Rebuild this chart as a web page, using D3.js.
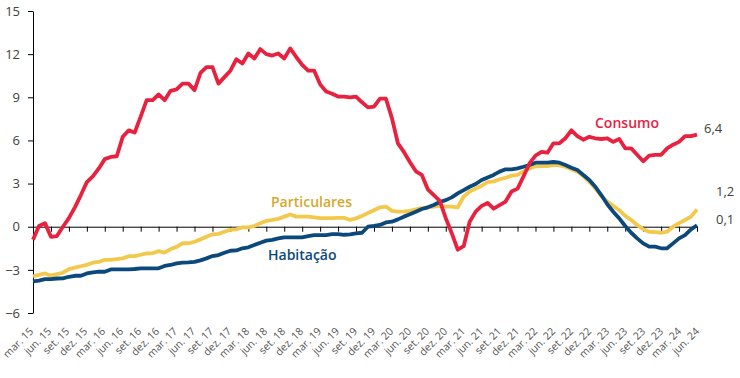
<!DOCTYPE html>
<html>
<head>
<meta charset="utf-8">
<script src="https://cdn.jsdelivr.net/npm/d3@7"></script>
<style>
  body { margin: 0; background: #fff; }
  svg { display: block; font-family: "Open Sans", sans-serif; }
</style>
</head>
<body>
<svg id="chart" width="740" height="378"></svg>
<script>
// ========== Data ==========
// monthly, mar.15 .. jun.24 (112 months)
const consumo = [
  -0.9, 0.05, 0.25, -0.7, -0.65, 0.0, 0.6, 1.35, 2.2, 3.1, 3.5, 4.05,
  4.7, 4.85, 4.9, 6.25, 6.7, 6.55, 7.65, 8.8, 8.8, 9.2, 8.8, 9.45,
  9.55, 9.95, 9.95, 9.5, 10.7, 11.1, 11.1, 9.95, 10.4, 10.85, 11.65, 11.35,
  12.05, 11.7, 12.35, 12.0, 11.9, 12.05, 11.7, 12.4, 11.8, 11.25, 10.85, 10.85,
  9.9, 9.4, 9.25, 9.05, 9.05, 9.0, 9.05, 8.65, 8.3, 8.35, 8.9, 8.9,
  7.55, 5.8, 5.2, 4.5, 3.85, 3.6, 2.6, 2.2, 1.8, 0.6, -0.45, -1.6,
  -1.35, 0.35, 1.05, 1.45, 1.65, 1.25, 1.5, 1.75, 2.45, 2.65, 3.5, 4.4,
  4.95, 5.2, 5.15, 5.8, 5.8, 6.15, 6.7, 6.3, 6.05, 6.25, 6.15, 6.1,
  6.15, 5.9, 6.1, 5.45, 5.45, 5.0, 4.55, 4.95, 5.0, 5.0, 5.45, 5.7,
  5.9, 6.3, 6.3, 6.4
];

const particulares = [
  -3.45, -3.35, -3.25, -3.4, -3.3, -3.2, -2.95, -2.85, -2.75, -2.65, -2.5, -2.45,
  -2.3, -2.3, -2.25, -2.2, -2.05, -2.05, -1.95, -1.85, -1.85, -1.7, -1.8, -1.55,
  -1.4, -1.15, -1.15, -1.05, -0.88, -0.7, -0.53, -0.5, -0.35, -0.2, -0.18, -0.05,
  -0.05, 0.05, 0.25, 0.4, 0.47, 0.55, 0.7, 0.85, 0.7, 0.7, 0.7, 0.65,
  0.6, 0.6, 0.6, 0.62, 0.62, 0.47, 0.58, 0.75, 0.95, 1.15, 1.35, 1.4,
  1.1, 1.05, 1.05, 1.1, 1.2, 1.3, 1.35, 1.4, 1.45, 1.4, 1.4, 1.35,
  2.1, 2.45, 2.65, 2.85, 3.1, 3.15, 3.3, 3.4, 3.55, 3.6, 3.85, 4.05,
  4.2, 4.22, 4.22, 4.3, 4.27, 4.17, 4.0, 3.83, 3.5, 3.13, 2.67, 2.13,
  1.75, 1.45, 1.15, 0.75, 0.47, 0.12, -0.18, -0.35, -0.37, -0.42, -0.35, 0.0,
  0.25, 0.47, 0.7, 1.2
];

const habitacao = [
  -3.8, -3.75, -3.65, -3.64, -3.6, -3.59, -3.48, -3.41, -3.41, -3.25, -3.17, -3.13,
  -3.13, -2.97, -2.96, -2.96, -2.96, -2.94, -2.89, -2.89, -2.89, -2.89, -2.73, -2.66,
  -2.55, -2.5, -2.48, -2.45, -2.34, -2.2, -2.04, -1.97, -1.81, -1.67, -1.65, -1.5,
  -1.43, -1.27, -1.11, -0.97, -0.92, -0.81, -0.74, -0.74, -0.74, -0.74, -0.65, -0.58,
  -0.58, -0.58, -0.51, -0.51, -0.56, -0.53, -0.46, -0.42, 0.0, 0.05, 0.12, 0.3,
  0.35, 0.51, 0.7, 0.86, 1.04, 1.23, 1.35, 1.51, 1.72, 1.85, 2.04, 2.32,
  2.55, 2.78, 2.97, 3.25, 3.43, 3.6, 3.83, 3.99, 3.99, 4.06, 4.17, 4.29,
  4.45, 4.45, 4.45, 4.5, 4.45, 4.29, 4.1, 3.94, 3.6, 3.25, 2.78, 2.2,
  1.56, 1.04, 0.58, 0.05, -0.42, -0.81, -1.16, -1.39, -1.39, -1.5, -1.5, -1.16,
  -0.81, -0.58, -0.18, 0.1
];

const tickLabels = [
  'mar. 15', 'jun. 15', 'set. 15', 'dez. 15', 'mar. 16', 'jun. 16', 'set. 16', 'dez. 16',
  'mar. 17', 'jun. 17', 'set. 17', 'dez. 17', 'mar. 18', 'jun. 18', 'set. 18', 'dez. 18',
  'mar. 19', 'jun. 19', 'set. 19', 'dez. 19', 'mar. 20', 'jun. 20', 'set. 20', 'dez. 20',
  'mar. 21', 'jun. 21', 'set. 21', 'dez. 21', 'mar. 22', 'jun. 22', 'set. 22', 'dez. 22',
  'mar. 23', 'jun. 23', 'set. 23', 'dez. 23', 'mar. 24', 'jun. 24'
];

const yTicks = [-6, -3, 0, 3, 6, 9, 12, 15];

const seriesNames = ['Consumo', 'Particulares', 'Habitação'];
const endLabels = ['6,4', '1,2', '0,1'];

// ========== Config ==========
const config = {
  left: 33, right: 697, top: 11, bottom: 313,
  colors: {
    consumo: '#E8213F',
    particulares: '#F2C94C',
    particularesText: '#D6A82A',
    habitacao: '#0B487B',
    axis: '#000',
    text: '#404040',
    tickText: '#555'
  }
};

const svg = d3.select('#chart');

// ========== Scales ==========
const x = d3.scaleLinear()
  .domain([0, consumo.length - 1])
  .range([config.left, config.right]);

const y = d3.scaleLinear()
  .domain([-6, 15])
  .range([config.bottom, config.top]);

// label anchors (spread a touch wider than the ticks)
const xLabel = d3.scalePoint()
  .domain(tickLabels)
  .range([34, 700]);

// ========== Y Axis ==========
const yAxis = svg.append('g')
  .attr('transform', `translate(${config.left},0)`)
  .call(d3.axisLeft(y).tickValues(yTicks).tickSize(5).tickPadding(8).tickSizeOuter(0));

yAxis.select('.domain').attr('stroke', config.colors.axis);
yAxis.selectAll('.tick line').attr('stroke', config.colors.axis);
yAxis.selectAll('.tick text')
  .attr('fill', config.colors.text)
  .style('font-size', '13px')
  .style('font-family', '"Open Sans", sans-serif');

// ========== X Axis (on zero line) ==========
const tickIdx = tickLabels.map((d, i) => i * 3);

const xAxis = svg.append('g')
  .attr('transform', `translate(0,${y(0)})`)
  .call(d3.axisBottom(x).tickValues(tickIdx).tickSize(5).tickSizeOuter(0).tickFormat(''));

xAxis.select('.domain').attr('stroke', config.colors.axis);
xAxis.selectAll('.tick line').attr('stroke', config.colors.axis);

// Rotated labels below the plot
svg.append('g')
  .selectAll('text')
  .data(tickLabels)
  .join('text')
    .attr('transform', d => `translate(${xLabel(d)},${config.bottom + 19}) rotate(-45)`)
    .attr('text-anchor', 'end')
    .attr('fill', config.colors.tickText)
    .style('font-size', '10.5px')
    .text(d => d);

// ========== Lines ==========
const line = d3.line()
  .x((d, i) => x(i))
  .y(d => y(d));

const series = [
  {values: particulares, color: config.colors.particulares},
  {values: habitacao, color: config.colors.habitacao},
  {values: consumo, color: config.colors.consumo}
];

svg.append('g')
  .selectAll('path')
  .data(series)
  .join('path')
    .attr('d', d => line(d.values))
    .attr('fill', 'none')
    .attr('stroke', d => d.color)
    .attr('stroke-width', 3.8)
    .attr('stroke-linejoin', 'round');

// ========== Series Labels ==========
const seriesLabels = [
  {text: seriesNames[0], x: 595, y: 128, color: config.colors.consumo},
  {text: seriesNames[1], x: 271, y: 207, color: config.colors.particularesText},
  {text: seriesNames[2], x: 268, y: 260, color: config.colors.habitacao}
];

svg.append('g')
  .selectAll('text')
  .data(seriesLabels)
  .join('text')
    .attr('x', d => d.x)
    .attr('y', d => d.y)
    .attr('fill', d => d.color)
    .style('font-size', '14px')
    .style('font-weight', 600)
    .text(d => d.text);

// ========== End Value Labels ==========
const endPos = [
  {x: 704, y: 133},
  {x: 716, y: 196},
  {x: 716, y: 224}
];

svg.append('g')
  .selectAll('text')
  .data(endLabels)
  .join('text')
    .attr('x', (d, i) => endPos[i].x)
    .attr('y', (d, i) => endPos[i].y)
    .attr('fill', config.colors.text)
    .style('font-size', '13px')
    .text(d => d);
</script>
</body>
</html>
